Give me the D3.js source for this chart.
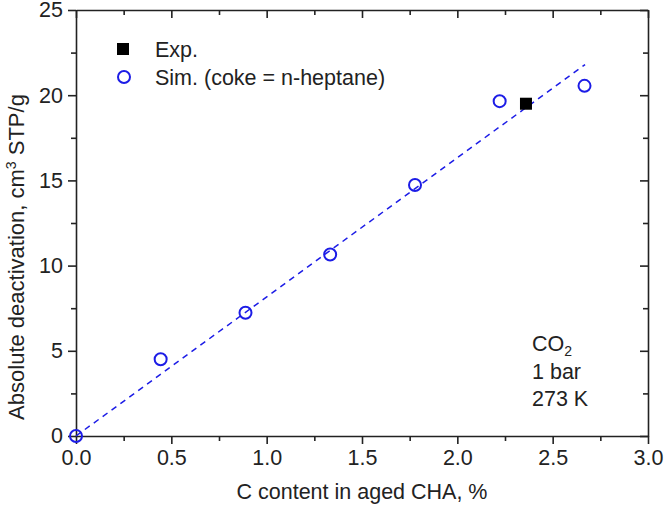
<!DOCTYPE html>
<html>
<head>
	<meta charset="UTF-8" />
	<title>absolute deactivation</title>
	<script src="https://d3js.org/d3.v7.min.js"></script>
	<style>
		body { margin: 0; background: #fff; }
		text { font-family: "Liberation Sans", Arial, sans-serif; fill: #222; }
	</style>
</head>
<body>
	<svg id="chart" style="width:664px; height:511px; display:block"></svg>

	<script type="text/javascript">
	// data
	var simX = [0, 0.444, 0.889, 1.333, 1.778, 2.222, 2.667]
	var simY = [0, 4.5, 7.23, 10.65, 14.73, 19.65, 20.55]
	var expX = [2.36]
	var expY = [19.5]
	var fitX = [0, 2.67]
	var fitY = [0, 21.8]
	var xTicks = [0, 0.5, 1.0, 1.5, 2.0, 2.5, 3.0]
	var yTicks = [0, 5, 10, 15, 20, 25]
	var noteLines = ["CO", "1 bar", "273 K"]

	var blue = "#1c1ce6"
	var ink = "#222"
	var fs = "21.5px"

	var svg = d3.select("#chart")
	var mLeft = 76, mRight = 648, mTop = 10, mBottom = 436

	//scale
	var xScale = d3.scaleLinear().domain([0, 3]).range([mLeft, mRight])
	var yScale = d3.scaleLinear().domain([0, 25]).range([mBottom, mTop])

	var minorX = d3.range(0.25, 3, 0.5)
	var minorY = d3.range(2.5, 25, 5)

	function styleAxis(g) {
		g.selectAll("path.domain").attr("stroke", ink).attr("stroke-width", 1.6)
		g.selectAll(".tick line").attr("stroke", ink).attr("stroke-width", 1.6)
		g.selectAll("text").style("font-size", fs).attr("fill", ink)
	}

	//axis: bottom + left with labels
	var xAxis = d3.axisBottom(xScale).tickValues(xTicks).tickFormat(d3.format(".1f")).tickSizeInner(8).tickSizeOuter(0).tickPadding(6)
	svg.append("g").attr("transform", `translate(0,${mBottom})`).call(xAxis).call(styleAxis)
	svg.append("g").attr("transform", `translate(0,${mBottom})`)
		.call(d3.axisBottom(xScale).tickValues(minorX).tickFormat("").tickSize(5).tickSizeOuter(0))
		.call(styleAxis).select("path.domain").remove()

	var yAxis = d3.axisLeft(yScale).tickValues(yTicks).tickSizeInner(8).tickSizeOuter(0).tickPadding(5)
	svg.append("g").attr("transform", `translate(${mLeft},0)`).call(yAxis).call(styleAxis)
	svg.append("g").attr("transform", `translate(${mLeft},0)`)
		.call(d3.axisLeft(yScale).tickValues(minorY).tickFormat("").tickSize(5).tickSizeOuter(0))
		.call(styleAxis).select("path.domain").remove()

	// mirrored top/right, ticks inward
	svg.append("g").attr("transform", `translate(0,${mTop})`)
		.call(d3.axisBottom(xScale).tickValues(xTicks).tickFormat("").tickSize(8).tickSizeOuter(0)).call(styleAxis)
	svg.append("g").attr("transform", `translate(0,${mTop})`)
		.call(d3.axisBottom(xScale).tickValues(minorX).tickFormat("").tickSize(5).tickSizeOuter(0))
		.call(styleAxis).select("path.domain").remove()
	svg.append("g").attr("transform", `translate(${mRight},0)`)
		.call(d3.axisLeft(yScale).tickValues(yTicks).tickFormat("").tickSize(8).tickSizeOuter(0)).call(styleAxis)
	svg.append("g").attr("transform", `translate(${mRight},0)`)
		.call(d3.axisLeft(yScale).tickValues(minorY).tickFormat("").tickSize(5).tickSizeOuter(0))
		.call(styleAxis).select("path.domain").remove()

	// axis titles
	svg.append("text")
		.attr("x", (mLeft + mRight) / 2).attr("y", 499)
		.attr("text-anchor", "middle").style("font-size", fs)
		.text("C content in aged CHA, %")

	var yt = svg.append("text")
		.attr("transform", `translate(24,257) rotate(-90)`)
		.attr("text-anchor", "middle").style("font-size", "22px")
	yt.append("tspan").text("Absolute deactivation, cm")
	yt.append("tspan").attr("dy", -8).style("font-size", "14px").text("3")
	yt.append("tspan").attr("dy", 8).text(" STP/g")

	// fit line
	var fit = fitX.map((x, i) => [x, fitY[i]])
	svg.append("path")
		.attr("d", d3.line().x(d => xScale(d[0])).y(d => yScale(d[1]))(fit))
		.attr("fill", "none").attr("stroke", blue).attr("stroke-width", 1.5)
		.attr("stroke-dasharray", "6,5")

	// sim circles
	svg.selectAll("circle.sim").data(simX.map((x, i) => [x, simY[i]])).enter()
		.append("circle").attr("class", "sim")
		.attr("cx", d => xScale(d[0])).attr("cy", d => yScale(d[1])).attr("r", 6)
		.attr("fill", "none").attr("stroke", blue).attr("stroke-width", 2)

	// exp squares
	svg.selectAll("rect.exp").data(expX.map((x, i) => [x, expY[i]])).enter()
		.append("rect").attr("class", "exp")
		.attr("x", d => xScale(d[0]) - 6).attr("y", d => yScale(d[1]) - 6)
		.attr("width", 12).attr("height", 12).attr("fill", "#000")

	// legend
	svg.append("rect").attr("x", 117).attr("y", 43).attr("width", 12).attr("height", 12).attr("fill", "#000")
	svg.append("text").attr("x", 155).attr("y", 57).style("font-size", fs).text("Exp.")
	svg.append("circle").attr("cx", 124).attr("cy", 77).attr("r", 6)
		.attr("fill", "none").attr("stroke", blue).attr("stroke-width", 2)
	svg.append("text").attr("x", 155).attr("y", 85).style("font-size", fs).text("Sim. (coke = n-heptane)")

	// conditions note
	var note = svg.append("g").style("font-size", fs)
	var co = note.append("text").attr("x", 532).attr("y", 351)
	co.append("tspan").text(noteLines[0])
	co.append("tspan").attr("dy", 5).style("font-size", "14px").text("2")
	note.append("text").attr("x", 532).attr("y", 379).text(noteLines[1])
	note.append("text").attr("x", 532).attr("y", 406).text(noteLines[2])
	</script>
</body>
</html>
